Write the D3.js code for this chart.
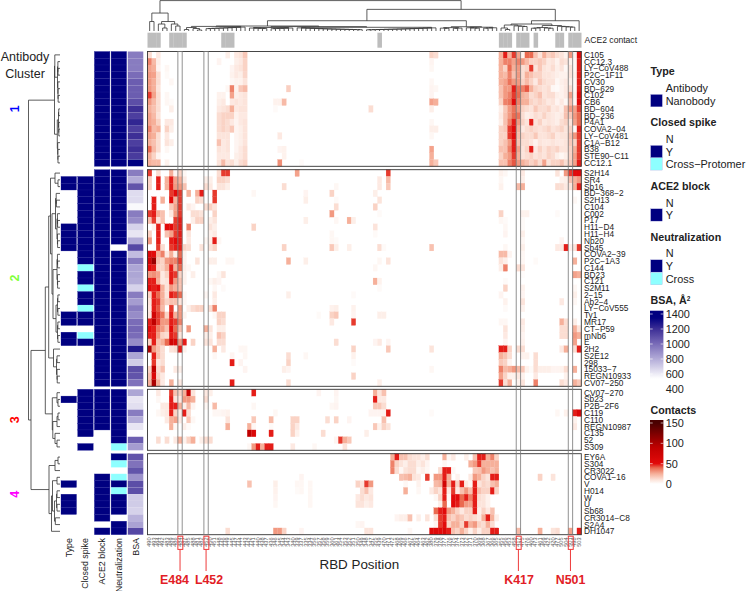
<!DOCTYPE html>
<html>
<head>
<meta charset="utf-8">
<script src="https://cdnjs.cloudflare.com/ajax/libs/d3/7.8.5/d3.min.js"></script>
<style>
html,body{margin:0;padding:0;background:#fff;}
svg{display:block;}
text{font-family:"Liberation Sans",Arial,sans-serif;fill:#222;}
</style>
</head>
<body>
<svg id="chart" width="746" height="591"></svg>
<script>
// RBD positions in clustered order (tiny labels under the heatmap, best guess)
var residues = [490,493,494,492,483,489,486,484,487,485,488,481,482,452,450,451,448,446,449,445,
447,444,443,442,441,440,438,437,436,346,345,344,343,340,339,337,335,334,356,357,
358,359,360,361,354,353,352,351,350,349,348,347,355,439,470,471,472,468,469,466,
467,465,464,463,462,380,379,378,377,376,375,374,373,372,371,370,369,368,367,366,
365,455,456,453,458,417,475,476,460,473,461,459,422,420,477,505,504,501,498,503];
var ace2Contact = [0,1,2,5,6,7,8,17,18,19,53,81,82,83,85,86,87,89,94,95,97,98,99];
var markedResidues = [484,452,417,501];
var markedNames = ['E484','L452','K417','N501'];

var namesC1 = ['C105','CC12.3','LY−CoV488','P2C−1F11','CV30','BD−629','C102','CB6','BD−604','BD−236','P4A1','COVA2−04','LY−CoV481','C1A−B12','B38','STE90−C11','CC12.1'];
var namesC2 = ['S2H14','SR4','Sb16','BD−368−2','S2H13','C104','C002','P17','H11−D4','H11−H4','Nb20','Sb45','COVA2−39','P2C−1A3','C144','BD23','C121','S2M11','2−15','Ab2−4','LY−CoV555','Ty1','MR17','CT−P59','mNb6','E','2H2','S2E12','298','15033−7','REGN10933','CV07−250'];
var namesC3 = ['CV07−270','Sb23','P2B−2F6','C119','C110','REGN10987','C135','52','S309'];
var namesC4 = ['EY6A','S304','CR3022','COVA1−16','V','H014','W','U','Sb68','CR3014−C8','S2A4','DH1047'];

// annotation tracks, 0 = white, 1 = navy, 2 = cyan
var typeC1 = [0,0,0,0,0,0,0,0,0,0,0,0,0,0,0,0,0];
var typeC2 = [0,1,1,0,0,0,0,0,1,1,1,1,0,0,0,0,0,0,0,0,0,1,1,0,1,1,0,0,0,0,0,0];
var typeC3 = [0,1,0,0,0,0,0,0,0];
var typeC4 = [0,0,0,0,1,0,1,1,1,0,0,0];
var closedC1 = [0,0,0,0,0,0,0,0,0,0,0,0,0,0,0,0,0];
var closedC2 = [0,1,1,1,1,1,1,1,1,1,1,1,1,1,2,1,1,2,1,1,2,1,1,0,2,1,0,0,0,0,0,0];
var closedC3 = [1,1,1,1,1,1,1,0,1];
var closedC4 = [0,0,0,0,0,0,0,0,0,0,0,0];
var aceC1 = [1,1,1,1,1,1,1,1,1,1,1,1,1,1,1,1,1];
var aceC2 = [1,1,1,1,1,1,1,1,1,1,1,1,1,1,1,1,1,1,1,1,1,1,1,1,1,1,1,1,1,1,1,1];
var aceC3 = [1,1,1,1,1,1,0,0,0];
var aceC4 = [0,0,0,1,1,1,1,1,1,1,0,1];
var neutC1 = [1,1,1,1,1,1,1,1,1,1,1,1,1,1,1,1,1];
var neutC2 = [1,1,1,1,1,1,1,1,1,1,1,0,1,1,1,1,1,1,1,1,1,1,1,1,1,1,1,1,1,1,1,1];
var neutC3 = [1,1,1,1,1,1,1,1,2];
var neutC4 = [1,2,0,2,1,2,1,1,1,0,1,1];
var bsaC1 = [950,950,950,1000,1050,1050,1050,1100,1200,1150,1230,1150,1200,1150,1200,1160,1400];
var bsaC2 = [950,800,1080,650,650,560,950,900,680,620,800,1120,750,950,820,820,800,680,950,850,950,900,1000,1020,1000,900,1270,820,700,1100,1080,980];
var bsaC3 = [820,620,640,950,800,620,550,1050,850];
var bsaC4 = [1080,980,1080,880,1100,1100,700,700,680,780,830,1120];

// contacts per row, {column index: contacts}, blanks are zero
var contactsC1 = [
{0:12,2:8,18:6,20:8,21:10,22:18,65:15,66:12,81:25,82:48,83:25,84:45,85:28,86:5,87:40,88:40,89:20,90:10,91:25,92:15,93:18,94:12,95:10,96:5,97:30,98:5,99:50},
{0:35,1:22,2:6,16:4,20:6,21:8,22:15,65:4,81:25,82:35,83:35,84:28,85:35,86:30,87:22,88:15,89:15,90:18,91:15,92:8,93:10,94:5,95:12,96:10,97:5,98:3,99:48},
{0:28,1:25,2:4,4:3,19:4,20:8,21:10,22:15,65:3,81:25,82:15,83:40,84:25,85:30,86:12,87:15,88:45,89:10,90:18,91:10,92:8,93:12,94:6,95:10,96:3,97:10,98:3,99:48},
{0:30,1:28,2:12,4:2,19:5,20:8,21:6,22:14,81:25,82:22,83:35,84:20,85:30,86:12,87:25,88:20,89:15,90:15,91:10,92:10,93:8,94:6,95:5,96:5,97:10,98:5,99:48},
{0:30,1:25,2:12,5:3,19:3,20:5,21:5,22:10,65:3,81:25,82:28,83:38,84:30,85:30,86:15,87:22,88:15,89:8,90:18,91:12,92:10,93:10,94:3,95:6,96:8,97:6,98:3,99:48},
{0:30,1:25,2:10,18:3,19:35,20:5,21:18,22:22,32:16,65:4,66:3,81:20,82:30,83:30,84:48,85:38,86:35,87:42,88:25,89:15,90:12,91:10,92:12,93:3,94:2,95:5,96:8,97:12,98:3,99:48},
{0:45,1:28,2:12,4:3,16:5,17:5,19:28,20:6,21:8,22:10,65:4,81:20,82:30,83:35,84:45,85:40,86:25,87:22,88:12,89:15,90:20,91:10,92:12,93:12,94:6,95:5,96:8,97:28,98:5,99:50},
{0:30,1:22,2:12,4:3,5:2,16:6,17:8,19:8,20:10,21:8,22:10,29:5,30:5,31:22,65:28,66:25,81:15,82:35,83:38,84:50,85:35,86:25,87:25,88:15,89:12,90:15,91:12,92:8,93:10,94:4,95:8,96:3,97:20,98:3,99:50},
{0:25,1:20,2:12,5:6,16:8,17:10,18:12,19:25,20:8,21:10,22:10,29:2,51:12,65:6,81:6,82:18,83:30,84:38,85:30,86:15,87:12,88:10,89:18,90:12,91:12,92:15,93:8,94:10,95:6,96:20,97:30,98:28,99:45},
{0:28,1:22,2:10,16:12,17:15,18:15,19:15,20:5,21:8,22:8,81:8,82:20,83:30,84:40,85:38,86:12,87:6,88:8,89:12,90:10,91:15,92:10,93:8,94:6,95:8,96:20,97:18,98:30,99:40},
{0:28,1:25,2:15,4:8,5:8,16:12,17:15,18:12,19:8,20:4,21:8,22:10,65:3,81:6,82:20,83:35,84:48,85:30,86:15,87:10,88:48,89:10,90:15,91:8,92:10,93:8,94:6,95:12,96:15,97:10,98:28,99:40},
{0:35,1:22,2:25,4:15,5:6,16:12,17:15,18:12,19:18,20:4,21:6,22:10,65:6,66:6,81:15,82:18,83:45,84:50,85:25,86:8,87:12,88:15,89:12,90:10,91:12,92:15,93:10,94:12,95:15,96:10,97:15,98:3,99:48},
{0:28,1:25,2:12,4:8,16:10,17:10,18:10,20:4,21:6,22:10,30:8,65:3,81:15,82:15,83:45,84:50,85:22,86:15,87:12,88:12,89:18,90:10,91:10,92:12,93:15,94:8,95:10,96:10,97:20,98:30,99:45},
{0:25,1:20,2:12,4:10,5:6,16:20,17:8,18:10,20:4,21:6,22:10,81:15,82:20,83:30,84:48,85:20,86:12,87:12,88:10,89:5,90:10,91:8,92:8,93:10,94:8,95:8,96:10,97:18,98:15,99:45},
{0:40,1:22,2:12,4:3,16:10,17:8,18:10,20:4,21:8,22:12,30:4,31:5,65:28,81:20,82:20,83:35,84:48,85:28,86:10,87:15,88:48,89:8,90:15,91:10,92:15,93:12,94:15,95:10,96:10,97:15,98:25,99:45},
{0:25,1:15,2:4,16:8,17:8,18:8,20:6,21:8,22:12,31:5,65:25,81:15,82:25,83:30,84:45,85:25,86:10,87:12,88:15,89:10,90:12,91:10,92:15,93:12,94:6,95:3,96:6,97:15,98:28,99:45},
{0:25,1:22,2:22,4:5,16:10,17:22,18:10,19:12,20:6,21:12,22:15,30:32,35:2,65:25,66:18,81:20,82:20,83:35,84:42,85:30,86:25,87:20,88:15,89:20,90:12,91:28,92:10,93:15,94:15,95:20,96:12,97:18,98:28,99:48}
];
var contactsC2 = [
{0:45,2:12,5:25,6:4,7:15,8:3,16:12,17:45,18:45,34:28,55:45,81:5,82:3,86:8,94:10,96:30,97:45,98:50,99:50},
{0:15,2:48,4:25,5:48,6:28,7:25,8:8,13:6,14:6,16:15,17:15,18:12,53:8,55:22,81:3,86:6,95:5,96:6,97:20,98:25,99:30},
{0:15,2:48,4:25,5:48,6:30,7:30,8:20,13:12,14:8,16:10,17:10,18:6,31:12,43:3,53:8,55:18,81:5,85:22,86:25,94:12,95:12,96:8,97:10,98:25,99:48},
{5:45,6:50,7:45,9:25,11:25,12:48,15:45,24:3,36:4,42:15,52:6},
{1:48,3:25,5:50,6:25,7:45,11:15,12:12,15:45,36:6,43:2,53:10,98:3},
{1:48,5:18,6:28,7:45,9:8,10:4,13:12,14:15,15:10,43:12,52:15},
{0:45,1:48,2:25,3:20,5:8,6:30,7:45,10:12,11:12,12:10,15:15,42:30,53:2,81:15,86:5,87:5,94:2},
{0:20,1:45,2:10,3:20,6:45,7:48,10:6,11:15,12:15,14:6,15:10,36:6,43:3,46:25,47:6,81:3,82:2,86:2},
{1:5,2:48,4:50,5:50,6:45,7:48,9:35,14:10,15:6,24:15,52:10,82:3,86:2},
{0:15,2:48,4:20,5:28,6:45,7:48,9:10,14:5,15:8,42:3,52:2,82:4,86:6},
{0:30,2:48,5:48,6:50,7:48,9:8,13:3,14:6,15:48,16:3,42:3,43:2,86:3,95:4},
{2:45,3:12,5:45,6:48,7:48,8:15,9:12,12:10,14:10,15:15,31:15,42:18,43:6,46:6,53:12,54:2,65:20,82:3,86:6,94:8,95:8,96:48,97:5,98:10,99:45},
{0:60,1:50,2:25,3:35,4:8,5:25,6:6,7:40,8:5,81:22,82:22,83:4,86:3},
{0:70,1:110,2:20,3:15,4:30,5:35,6:35,7:45,8:5,11:10,14:6,15:6,18:3,19:3,32:25,36:6,53:3,55:10,81:10,82:6,86:3,89:2,98:25},
{0:50,1:48,2:15,3:15,4:25,5:48,6:25,7:40,8:6,9:3,52:3,81:6,82:35,85:12,86:10},
{0:30,1:32,2:28,3:8,4:15,5:48,6:45,7:15,8:5,10:6,16:3,17:10,86:1,98:28,99:25},
{0:48,1:48,2:25,3:8,4:10,5:48,6:30,7:20,8:5,14:3,15:6,16:4,52:25,53:5,82:2},
{0:50,1:48,2:50,3:25,4:10,5:30,6:25,7:20,15:3,17:2,53:2,82:15,86:5,98:3},
{0:15,1:48,2:40,3:25,4:10,5:48,6:45,7:40,8:3,13:3,15:8,32:6,47:2,81:4,86:4,98:6},
{0:10,1:48,2:45,3:25,4:15,5:20,6:20,7:10,8:3,15:6,82:5,86:10,95:8,98:3},
{0:8,1:48,2:42,3:22,5:45,7:30,9:6,10:12,11:15,12:15,14:12,15:35,42:5,43:6,47:5,82:2,86:5},
{0:10,1:70,2:45,3:38,4:15,5:48,6:25,7:30,8:5,15:3,16:15,17:15,39:2,42:15,43:18,47:4,53:6,54:6},
{0:48,1:90,2:45,3:30,4:30,5:48,6:45,7:35,16:15,17:12,42:8,47:45,81:3,82:3,86:8,95:25,96:12,98:6},
{0:50,1:48,2:35,3:30,4:20,5:50,6:40,7:20,9:30,13:25,14:10,16:6,17:6,82:10,86:6,95:12,96:12,98:25,99:10},
{0:48,1:48,2:30,3:15,4:12,5:48,6:45,7:10,13:6,14:6,16:20,17:15,82:8,86:4,95:12,96:12,98:30,99:25},
{0:15,1:48,2:20,3:25,4:40,5:70,6:60,7:30,8:48,10:15,13:10,14:10,16:12,17:12,43:12,52:4,53:8,55:4,82:4,86:5,98:28},
{0:100,1:30,2:20,3:12,5:10,6:12,7:48,8:5,15:25,17:8,21:3,22:3,47:15,55:18,65:10,81:48,82:48,83:15,85:12,86:12,95:8,96:25,98:12,99:48},
{1:48,2:20,3:12,15:3,19:4,22:3,32:12,36:3,47:5,81:25,82:20,83:12,86:5,87:5,89:12},
{1:45,2:8,3:12,19:48,21:4,32:15,47:2,81:18,82:15,83:4,89:12},
{0:15,1:90,2:12,3:20,6:8,7:6,22:4,31:6,32:4,65:3,81:35,82:22,83:25,84:30,85:22,86:18,87:5,88:2,89:12,90:6,91:6,92:6,93:4,94:4,95:5,96:12,98:25},
{0:20,1:60,2:15,3:8,47:15,81:28,82:15,83:5,84:5,85:8,86:5,89:8,96:5},
{0:25,1:100,2:25,3:8,5:25,7:8,19:48,32:12,53:6,81:45,82:12,83:25,85:5,86:10,89:35,95:12,96:8,98:25,99:18}
];
var contactsC3 = [
{2:8,5:45,6:20,7:15,8:25,9:80,10:10,13:8,14:6,24:48,39:4,43:4,52:25,53:10,54:20},
{2:3,5:48,6:10,7:8,8:30,9:30,10:25,13:12,43:3,52:48,53:8,54:8},
{3:8,4:8,5:48,6:48,7:25,8:6,9:22,10:4,13:3,15:22,24:3,42:3,43:4,52:18,53:18,54:12},
{2:3,3:6,4:8,5:48,6:15,7:6,8:48,9:12,15:3,16:3,17:4,18:5,29:3,51:4,52:4,53:4,54:4,55:48,65:2,94:3,96:5,98:48,99:60},
{4:8,5:25,6:28,7:8,9:18,10:3,18:10,24:18,28:22,33:15,34:15,41:12,43:15,46:4,54:20,98:5},
{5:25,6:3,8:6,9:2,18:25,23:25,24:3,28:2,33:15,34:8,52:18,53:5,54:15,55:10,98:8},
{23:90,24:60,28:48,33:15,34:5,40:12,50:6},
{2:12,4:12,6:8,7:25,8:5,9:15,10:25,12:6,13:12,14:12,43:4,44:45,45:25,46:18},
{23:3,24:30,25:48,26:25,27:48,28:48,33:8,38:3,45:10}
];
var contactsC4 = [
{56:25,57:48,58:20,59:20,60:12,61:10,62:10,63:6,64:12,68:25,69:3,70:8,73:6,75:20,76:48,77:48,78:25,79:35,80:15},
{56:35,57:15,58:10,59:6,60:12,61:12,62:6,63:10,64:4,68:3,74:25,75:30,76:45,77:25,78:25,79:25,80:25},
{56:35,57:12,58:3,59:10,60:12,61:12,62:3,63:6,64:3,67:12,68:48,69:48,70:3,75:18,76:20,77:30,78:25,79:20,80:25},
{35:4,58:20,59:22,60:25,61:10,62:8,64:45,66:30,67:30,68:48,69:25,71:5,74:8,75:30,76:25,77:15,78:10,79:48,80:48,90:15,93:10},
{23:20,29:6,34:3,35:3,37:3,48:15,49:10,50:45,51:30,59:3,62:5,66:22,67:25,68:70,69:25,70:48,71:15,72:48,73:8,74:3,75:48,76:10,77:15,78:12,79:20,80:25},
{29:5,34:2,35:3,37:3,49:12,50:20,51:8,59:25,62:3,65:8,66:15,67:10,68:48,69:8,70:45,71:8,72:20,73:30,74:20,75:48,76:20,77:15,78:15,79:48,80:15},
{29:4,37:3,48:8,49:12,50:8,51:10,66:3,67:15,68:48,69:3,70:50,71:50,72:40,73:48,74:35,75:48,76:12,77:10,78:5},
{29:3,37:3,48:10,49:10,50:6,51:8,67:6,68:40,70:50,71:48,72:40,73:30,74:28,75:48,76:10,77:10,78:5},
{66:40,67:48,68:50,69:30,70:25,71:15,72:8,73:15,74:15,75:48,76:6,77:15,78:8,79:20},
{57:4,58:6,59:6,60:20,62:6,64:10,66:12,67:45,68:48,69:20,70:15,71:22,72:18,73:12,74:15,75:12,76:8,77:25,78:48,79:25,80:6},
{48:3,49:4,66:4,67:45,68:50,69:15,70:25,71:25,72:15,73:45,74:25,75:30,76:15,77:12,78:25,79:12},
{18:12,29:30,30:30,31:15,35:4,50:10,51:10,60:3,65:55,66:55,67:50,68:60,69:48,70:20,71:15,72:25,73:15,74:5,75:15,76:6,77:15,78:15,79:48,80:48,85:22,90:25,93:10,94:12,97:28,99:48}
];

// dendrograms: [height, child, child], a bare number n is a run of n leaves chained together
var columnTree = [30.5,
  [18,[9.5,1,1],[9.5,[7,1,[3,1,1]],[7,1,[5,1,1]]]],
  [21.7,
    [10.3,
      [5,
        [4.6,[3.5,[1.5,1,1],[2.5,1,[1,1,1]]],-10],
        [4.4,[3.5,5,-6],[3.7,16,-17]]],
      [4.3,[3.4,3,-3],[3.8,4,-4]]],
    [10.3,
      [7,[6,[3,1,[1.5,1,1]],4],[5.5,[3.5,-3,3],5]],
      1]]];
var treeC1 = [5.5,[5.2,1,[2.5,3,4]],[2.7,[1.5,-2,3],4]];
var treeC2 = [11.3,[9.5,[5,1,[2,1,1]],[8,[4.5,3,[3,3,3]],[7,[3,3,3],[4,[2.5,2,2],[2.5,2,2]]]]],[6.5,1,[3.5,2,3]]];
var treeC3 = [7.7,[3,1,[2,1,1]],[7.2,[3,[2,1,1],1],[5,1,[3,1,1]]]];
var treeC4 = [11,[5,[2,1,1],1],[8.5,[7.5,[3,1,1],[5.5,[3.5,2,2],2]],1]];
var rowTree = [31.5,treeC1,[29,[14.7,treeC2,treeC3],treeC4]];

var trackNames = ['Type','Closed spike','ACE2 block','Neutralization','BSA'];
var bsaTicks = [1400,1200,1000,800,600,400];
var contactTicks = [150,100,50,0];
var NAVY = '#000080', CYAN = '#8effff';

var clusters = [
  {id:'1',color:'#0000ff',names:namesC1,type:typeC1,closed:closedC1,ace:aceC1,neut:neutC1,bsa:bsaC1,contacts:contactsC1,top:51.5,bottom:166.3},
  {id:'2',color:'#7fff3a',names:namesC2,type:typeC2,closed:closedC2,ace:aceC2,neut:neutC2,bsa:bsaC2,contacts:contactsC2,top:169.7,bottom:386.3},
  {id:'3',color:'#ff0000',names:namesC3,type:typeC3,closed:closedC3,ace:aceC3,neut:neutC3,bsa:bsaC3,contacts:contactsC3,top:389.3,bottom:450.3},
  {id:'4',color:'#ff00ff',names:namesC4,type:typeC4,closed:closedC4,ace:aceC4,neut:neutC4,bsa:bsaC4,contacts:contactsC4,top:453.7,bottom:534.7}
];

var svg = d3.select('#chart');
var xCol = d3.scaleBand().domain(d3.range(residues.length)).range([147.5,581.3]);
var xTrack = d3.scaleBand().domain(trackNames).range([61,143.3]).paddingInner(0.07);
var contactColor = d3.scaleLinear().domain([0,10,25,40,50,90,150])
  .range(['#ffffff','#fce4db','#f6b09a','#ea6a50','#e20a0a','#c00000','#4a0000']).clamp(true);
var bsaColor = d3.scaleLinear().domain([540,800,1000,1200,1350])
  .range(['#ffffff','#b3acd8','#7a6cb8','#3d2f96',NAVY]).clamp(true);
var flagColor = ['none',NAVY,CYAN];
var flagEdge = ['none','#1c1c94','#a6ffff'];

// heatmap and annotation tracks
var leafY = [];
clusters.forEach(function(c){
  var yRow = d3.scaleBand().domain(c.names).range([c.top,c.bottom]);
  c.names.forEach(function(n){ leafY.push(yRow(n)+yRow.bandwidth()/2); });

  var cells = [];
  c.contacts.forEach(function(row,i){
    Object.keys(row).forEach(function(k){
      cells.push({row:c.names[i],col:+k,value:row[k]});
    });
  });
  var g = svg.append('g');
  g.append('g').selectAll('rect').data(cells).enter().append('rect')
    .attr('x',function(d){ return xCol(d.col); })
    .attr('y',function(d){ return yRow(d.row); })
    .attr('width',xCol.bandwidth())
    .attr('height',yRow.bandwidth())
    .attr('fill',function(d){ return contactColor(d.value); })
    .attr('stroke',function(d){ return contactColor(d.value); })
    .attr('stroke-width',0.2);

  var tracks = [['Type',c.type],['Closed spike',c.closed],['ACE2 block',c.ace],['Neutralization',c.neut]];
  tracks.forEach(function(t){
    var tg = g.append('g');
    t[1].forEach(function(v,i){
      if(v == 0) return;
      tg.append('rect')
        .attr('x',xTrack(t[0]))
        .attr('y',yRow(c.names[i]))
        .attr('width',xTrack.bandwidth())
        .attr('height',yRow.bandwidth())
        .attr('fill',flagColor[v])
        .attr('stroke',flagEdge[v])
        .attr('stroke-width',0.3);
    });
  });
  g.append('g').selectAll('rect').data(c.bsa).enter().append('rect')
    .attr('x',xTrack('BSA'))
    .attr('y',function(d,i){ return yRow(c.names[i]); })
    .attr('width',xTrack.bandwidth())
    .attr('height',yRow.bandwidth())
    .attr('fill',function(d){ return bsaColor(d); })
    .attr('stroke','#fff')
    .attr('stroke-opacity',0.15)
    .attr('stroke-width',0.25);

  svg.append('g').selectAll('text').data(c.names).enter().append('text')
    .attr('x',584)
    .attr('y',function(d){ return yRow(d)+yRow.bandwidth()/2; })
    .attr('dy','0.36em')
    .attr('font-size',8.3)
    .text(function(d){ return d; });

  svg.append('text')
    .attr('transform','translate(19,'+d3.mean(yRow.domain(),function(n){ return yRow(n)+yRow.bandwidth()/2; })+') rotate(-90)')
    .attr('text-anchor','middle')
    .attr('font-size',12.5)
    .attr('font-weight','bold')
    .style('fill',c.color)
    .text(c.id);
});

clusters.forEach(function(c){
  svg.append('rect')
    .attr('x',xCol.range()[0]).attr('y',c.top)
    .attr('width',xCol.range()[1]-xCol.range()[0]).attr('height',c.bottom-c.top)
    .attr('fill','none').attr('stroke','#333').attr('stroke-width',0.9);
});

// grey frames through the four highlighted positions
var markedFrames = svg.append('g');
markedResidues.forEach(function(r){
  var i = residues.indexOf(r);
  markedFrames.append('rect')
    .attr('x',xCol(i)).attr('y',51.5)
    .attr('width',xCol.bandwidth()).attr('height',483.2)
    .attr('fill','none').attr('stroke','#777').attr('stroke-opacity',0.8).attr('stroke-width',1);
});

// ACE2 contact strip
svg.append('g').selectAll('rect').data(ace2Contact).enter().append('rect')
  .attr('x',function(d){ return xCol(d); })
  .attr('y',32.7)
  .attr('width',xCol.bandwidth()+0.2)
  .attr('height',15)
  .attr('fill','#bdbdbd');
svg.append('text').attr('x',584.5).attr('y',40.2).attr('dy','0.36em').attr('font-size',8.6).text('ACE2 contact');

// dendrograms
function chain(n,h){
  if(Math.abs(n) == 1) return 1;
  return n > 0 ? [h,1,chain(n-1,h*0.94)] : [h,chain(n+1,h*0.94),1];
}
function walkTree(node,parentH,leaves,segments){
  if(typeof node == 'number'){
    if(Math.abs(node) == 1) return {pos:leaves.shift(),h:0};
    return walkTree(chain(node,parentH*0.85),parentH,leaves,segments);
  }
  var a = walkTree(node[1],node[0],leaves,segments);
  var b = walkTree(node[2],node[0],leaves,segments);
  segments.push({h:node[0],a:a,b:b});
  return {pos:(a.pos+b.pos)/2,h:node[0]};
}
var colSegs = [];
walkTree(columnTree,30.5,residues.map(function(d,i){ return xCol(i)+xCol.bandwidth()/2; }),colSegs);
var yHeight = d3.scaleLinear().domain([0,30.5]).range([31,0.6]);
svg.append('g').selectAll('path').data(colSegs).enter().append('path')
  .attr('fill','none').attr('stroke','#333').attr('stroke-width',0.8)
  .attr('d',function(d){
    return 'M'+d.a.pos+','+yHeight(d.a.h)+'V'+yHeight(d.h)+'H'+d.b.pos+'V'+yHeight(d.b.h);
  });
var rowSegs = [];
walkTree(rowTree,31.5,leafY.slice(),rowSegs);
var xHeight = d3.scaleLinear().domain([0,31.5]).range([60,28.5]);
svg.append('g').selectAll('path').data(rowSegs).enter().append('path')
  .attr('fill','none').attr('stroke','#333').attr('stroke-width',0.8)
  .attr('d',function(d){
    return 'M'+xHeight(d.a.h)+','+d.a.pos+'H'+xHeight(d.h)+'V'+d.b.pos+'H'+xHeight(d.b.h);
  });

// column labels
svg.append('g').selectAll('text').data(residues).enter().append('text')
  .attr('transform',function(d,i){ return 'translate('+(xCol(i)+xCol.bandwidth()/2+1.7)+',537.5) rotate(-90)'; })
  .attr('text-anchor','end')
  .attr('font-size',5.6)
  .style('fill','#555')
  .text(function(d){ return d; });

trackNames.forEach(function(t){
  svg.append('text')
    .attr('transform','translate('+(xTrack(t)+xTrack.bandwidth()/2+3)+',538) rotate(-90)')
    .attr('text-anchor','end')
    .attr('font-size',8.9)
    .text(t);
});

svg.append('text').attr('x',25).attr('y',61).attr('text-anchor','middle').attr('font-size',12.5).text('Antibody');
svg.append('text').attr('x',25).attr('y',78).attr('text-anchor','middle').attr('font-size',12.5).text('Cluster');
svg.append('text').attr('x',359.3).attr('y',569).attr('text-anchor','middle').attr('font-size',13.4).text('RBD Position');

// red call-outs
var markedLabelX = [174.5,209,519,570.5];
markedResidues.forEach(function(r,k){
  var i = residues.indexOf(r);
  var cx = xCol(i)+xCol.bandwidth()/2;
  svg.append('rect')
    .attr('x',xCol(i)).attr('y',536.2)
    .attr('width',xCol.bandwidth()+0.6).attr('height',13.2)
    .attr('fill','none').attr('stroke','#ee3b3b').attr('stroke-width',1);
  svg.append('line')
    .attr('x1',cx).attr('x2',cx).attr('y1',549.4).attr('y2',571)
    .attr('stroke','#ee3b3b').attr('stroke-width',1);
  svg.append('text')
    .attr('x',markedLabelX[k]).attr('y',583.5)
    .attr('text-anchor','middle')
    .attr('font-size',12.4).attr('font-weight','bold')
    .style('fill','#e21d26')
    .text(markedNames[k]);
});

// legends
function discreteLegend(title,titleY,labels,labelYs,colors){
  svg.append('text').attr('x',650.5).attr('y',titleY).attr('font-size',10.7).attr('font-weight','bold').text(title);
  labels.forEach(function(l,i){
    svg.append('text').attr('x',665.7).attr('y',labelYs[i]).attr('dy','0.36em').attr('font-size',10.9).text(l);
    if(colors[i] != 'none'){
      svg.append('rect').attr('x',650.7).attr('y',labelYs[i]-6.2).attr('width',11.6).attr('height',12.3)
        .attr('fill',colors[i]).attr('stroke','#a8a8dd').attr('stroke-width',0.3);
    }
  });
}
discreteLegend('Type',75.3,['Antibody','Nanobody'],[88.3,100.7],['none',NAVY]);
discreteLegend('Closed spike',126.3,['N','Y','Cross−Protomer'],[139,151.7,164],['none',NAVY,CYAN]);
discreteLegend('ACE2 block',190,['N','Y'],[202.7,215],['none',NAVY]);
discreteLegend('Neutralization',240.7,['N','Y','Cross'],[253.3,266,278.7],['none',NAVY,CYAN]);

function colorBar(id,title,titleY,ticks,yScale,color,top,bottom){
  var t = svg.append('text').attr('x',650.5).attr('y',titleY).attr('font-size',10.7).attr('font-weight','bold').text(title);
  if(id == 'bsa'){
    t.append('tspan').attr('dy',-3.5).attr('font-size',6.5).text('2');
  }
  var grad = svg.append('defs').append('linearGradient').attr('id',id)
    .attr('x1',0).attr('x2',0).attr('y1',0).attr('y2',1);
  d3.range(0,1.0001,0.02).forEach(function(f){
    grad.append('stop').attr('offset',f).attr('stop-color',color(yScale.invert(top+f*(bottom-top))));
  });
  svg.append('rect').attr('x',650).attr('y',top).attr('width',13.4).attr('height',bottom-top).attr('fill','url(#'+id+')');
  ticks.forEach(function(v){
    var y = yScale(v);
    svg.append('text').attr('x',665.7).attr('y',y).attr('dy','0.36em').attr('font-size',10.9).text(v);
    svg.append('line').attr('x1',650).attr('x2',652.7).attr('y1',y).attr('y2',y).attr('stroke','#fff').attr('stroke-width',0.6);
    svg.append('line').attr('x1',660.7).attr('x2',663.4).attr('y1',y).attr('y2',y).attr('stroke','#fff').attr('stroke-width',0.6);
  });
}
colorBar('bsa','BSA, Å',304.3,bsaTicks,d3.scaleLinear().domain([400,1400]).range([389,314]),bsaColor,310.7,389);
colorBar('contactsBar','Contacts',414,contactTicks,d3.scaleLinear().domain([0,150]).range([484,423]),contactColor,420,484);
</script>
</body>
</html>
